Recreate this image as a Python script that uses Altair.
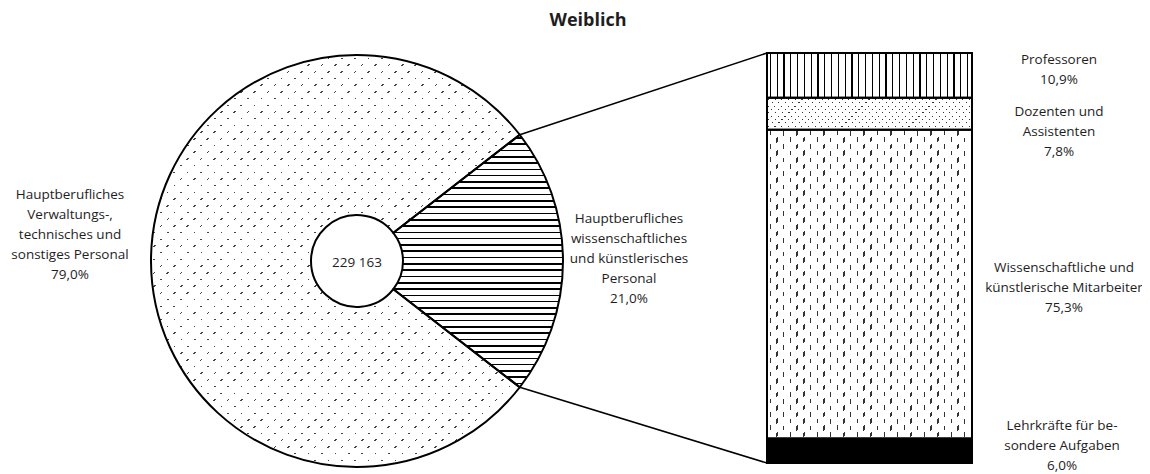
import math
import altair as alt
import pandas as pd

# ---------------- data ----------------
title_text = "Weiblich"
total_text = "229 163"

pie_categories = [
    "Hauptberufliches wissenschaftliches und künstlerisches Personal",
    "Hauptberufliches Verwaltungs-, technisches und sonstiges Personal",
]
pie_values = [21.0, 79.0]
pie_labels = [
    "Hauptberufliches\nwissenschaftliches\nund künstlerisches\nPersonal",
    "Hauptberufliches\nVerwaltungs-,\ntechnisches und\nsonstiges Personal",
]

bar_categories = [
    "Professoren",
    "Dozenten und Assistenten",
    "Wissenschaftliche und künstlerische Mitarbeiter",
    "Lehrkräfte für besondere Aufgaben",
]
bar_values = [10.9, 7.8, 75.3, 6.0]
bar_labels = [
    "Professoren",
    "Dozenten und\nAssistenten",
    "Wissenschaftliche und\nkünstlerische Mitarbeiter",
    "Lehrkräfte für be-\nsondere Aufgaben",
]


def pct(v):
    return f"{v:.1f}".replace(".", ",") + "%"


pie_df = pd.DataFrame({
    "cat": pie_categories,
    "value": pie_values,
    "ord": list(range(len(pie_values))),
    "text": [l + "\n" + pct(v) for l, v in zip(pie_labels, pie_values)],
})
bar_df = pd.DataFrame({
    "cat": bar_categories,
    "value": bar_values,
    "ord": list(range(len(bar_values))),
    "text": [l + "\n" + pct(v) for l, v in zip(bar_labels, bar_values)],
})
total_df = pd.DataFrame({"text": [total_text]})
title_df = pd.DataFrame({"text": [title_text]})

# ---------------- layout ----------------
W, H = 1134, 466
CX, CY, R, R0 = 349, 253, 206, 46
BX0, BX1, BY0, BY1 = 759, 964, 45, 455
FONT = "Open Sans"
FS = 13.5
LH = 20
TXT = "#1e1e1e"

half = math.pi * pie_values[0] / 100.0          # half-angle of the exploded wedge
a0 = math.pi / 2 - half                          # start angle (clockwise from 12 o'clock)

WHITE = "#ffffff"
CLEAR = "rgba(255,255,255,0)"


def stripes(bw, bh, axis, period, on, on_color, off_color, shift=0.0):
    """Stripe gradient (objectBoundingBox) ; phase = main + shift * cross (px)."""
    if axis == "y":
        E = bh + shift * bw
        a, b = shift * bw / E, bh / E
    else:
        E = bw + shift * bh
        a, b = bw / E, shift * bh / E
    den = a * a + b * b
    x2, y2 = a / den, b / den
    stops = [(0.0, off_color)]
    pad = (period - on) / 2.0
    i = 0
    while True:
        s = (i * period + pad) / E
        e = (i * period + pad + on) / E
        if s >= 1:
            break
        e = min(e, 1.0)
        stops += [(s, off_color), (s, on_color), (e, on_color), (e, off_color)]
        i += 1
    stops.append((1.0, off_color))
    return alt.LinearGradient(
        gradient="linear",
        stops=[alt.GradientStop(color=c, offset=round(o, 5)) for o, c in stops],
        x1=0, y1=0, x2=round(x2, 5), y2=round(y2, 5),
    )


# bounding boxes of the pieces (for objectBoundingBox gradients)
wedge_w = R - R0 * math.cos(half)
wedge_h = 2 * R * math.sin(half)
main_w = R + R * math.cos(half)
main_h = 2 * R
bar_w = BX1 - BX0
seg_h = [v / 100.0 * (BY1 - BY0) for v in bar_values]

theta_scale = alt.Scale(domain=[0, 100], range=[a0, a0 + 2 * math.pi])
y_scale = alt.Scale(domain=[0, 100], range=[BY0, BY1])

pie_base = alt.Chart(pie_df).transform_stack(
    stack="value", groupby=[], as_=["start", "end"], sort=[alt.SortField("ord")]
)


def pie_layer(cat, fill):
    return pie_base.transform_filter(
        alt.FieldEqualPredicate(field="cat", equal=cat)
    ).mark_arc(innerRadius=R0, outerRadius=R, fill=fill, strokeWidth=0).encode(
        theta=alt.Theta("start:Q", scale=theta_scale),
        theta2="end:Q",
        x=alt.value(CX),
        y=alt.value(CY),
    )


layers = []
# wedge: horizontal lines
layers.append(pie_layer(pie_categories[0],
                        stripes(wedge_w, wedge_h, "y", 6.3, 1.6, "#000000", WHITE)))
# main: staggered dots (rows + diagonal column mask)
layers.append(pie_layer(pie_categories[1],
                        stripes(main_w, main_h, "y", 6.7, 1.5, "#444444", WHITE)))
layers.append(pie_layer(pie_categories[1],
                        stripes(main_w, main_h, "x", 13.4, 1.5, CLEAR, WHITE, shift=1.0)))
# outlines
layers.append(
    pie_base.mark_arc(innerRadius=R0, outerRadius=R, fill="transparent",
                      stroke="#000000", strokeWidth=2).encode(
        theta=alt.Theta("start:Q", scale=theta_scale),
        theta2="end:Q",
        x=alt.value(CX),
        y=alt.value(CY),
    )
)

bar_base = alt.Chart(bar_df).transform_stack(
    stack="value", groupby=[], as_=["start", "end"], sort=[alt.SortField("ord")]
)


def bar_layer(cat, fill, stroke=False):
    props = dict(fill=fill)
    if stroke:
        props.update(stroke="#000000", strokeWidth=2)
    else:
        props.update(strokeWidth=0)
    ch = bar_base
    if cat is not None:
        ch = ch.transform_filter(alt.FieldEqualPredicate(field="cat", equal=cat))
    return ch.mark_rect(**props).encode(
        y=alt.Y("start:Q", scale=y_scale, axis=None),
        y2="end:Q",
        x=alt.value(BX0),
        x2=alt.value(BX1),
    )


# Professoren: vertical lines
layers.append(bar_layer(bar_categories[0],
                        stripes(bar_w, seg_h[0], "x", 6.8, 1.2, "#000000", WHITE)))
# Dozenten: dense staggered dots
layers.append(bar_layer(bar_categories[1],
                        stripes(bar_w, seg_h[1], "y", 3.35, 1.0, "#333333", WHITE)))
layers.append(bar_layer(bar_categories[1],
                        stripes(bar_w, seg_h[1], "x", 6.7, 1.1, CLEAR, WHITE, shift=1.0)))
# Mitarbeiter: staggered vertical dashes
layers.append(bar_layer(bar_categories[2],
                        stripes(bar_w, seg_h[2], "x", 6.7, 1.3, "#333333", WHITE)))
layers.append(bar_layer(bar_categories[2],
                        stripes(bar_w, seg_h[2], "y", 13.4, 4.5, CLEAR, WHITE, shift=1.0)))
# Lehrkräfte: solid black
layers.append(bar_layer(bar_categories[3], "#000000"))
# outlines
layers.append(bar_layer(None, "transparent", stroke=True))

# connector lines from wedge edge to bar corners
px = CX + R * math.sin(a0)
py_top = CY - R * math.cos(a0)
py_bot = CY + R * math.cos(a0)
wedge_only = alt.Chart(pie_df).transform_filter(
    alt.FieldEqualPredicate(field="cat", equal=pie_categories[0])
)
layers.append(wedge_only.mark_rule(color="#000000", strokeWidth=1.6).encode(
    x=alt.value(px), y=alt.value(py_top), x2=alt.value(BX0), y2=alt.value(BY0)))
layers.append(wedge_only.mark_rule(color="#000000", strokeWidth=1.6).encode(
    x=alt.value(px), y=alt.value(py_bot), x2=alt.value(BX0), y2=alt.value(BY1)))

text_props = dict(font=FONT, fontSize=FS, color=TXT, align="center",
                  baseline="middle", lineBreak="\n", lineHeight=LH)

# pie labels (y = first line)
for cat, (x, y) in zip(pie_categories, [(621, 211), (62, 187)]):
    layers.append(
        alt.Chart(pie_df).transform_filter(
            alt.FieldEqualPredicate(field="cat", equal=cat)
        ).mark_text(**text_props).encode(
            text="text:N", x=alt.value(x), y=alt.value(y))
    )

# total in the hole
layers.append(alt.Chart(total_df).mark_text(**text_props).encode(
    text="text:N", x=alt.value(CX), y=alt.value(CY + 2)))

# bar labels (anchored to the segment middle, first line nudged)
for cat, x, dy in zip(bar_categories, [1051, 1051, 1056, 1054], [-15, -2, -16, -25]):
    layers.append(
        bar_base.transform_filter(
            alt.FieldEqualPredicate(field="cat", equal=cat)
        ).transform_calculate(mid="(datum.start + datum.end) / 2")
        .mark_text(dy=dy, **text_props).encode(
            text="text:N", x=alt.value(x),
            y=alt.Y("mid:Q", scale=y_scale, axis=None))
    )

# title
layers.append(alt.Chart(title_df).mark_text(
    font=FONT, fontSize=18, fontWeight="bold", color=TXT, align="center",
    baseline="middle").encode(text="text:N", x=alt.value(580), y=alt.value(13)))

chart = alt.layer(*layers).properties(
    width=W, height=H, padding=0, autosize=alt.AutoSizeParams(type="none")
).configure_view(stroke=None)

chart.save("out.html", embed_options={"renderer": "svg", "actions": False})
